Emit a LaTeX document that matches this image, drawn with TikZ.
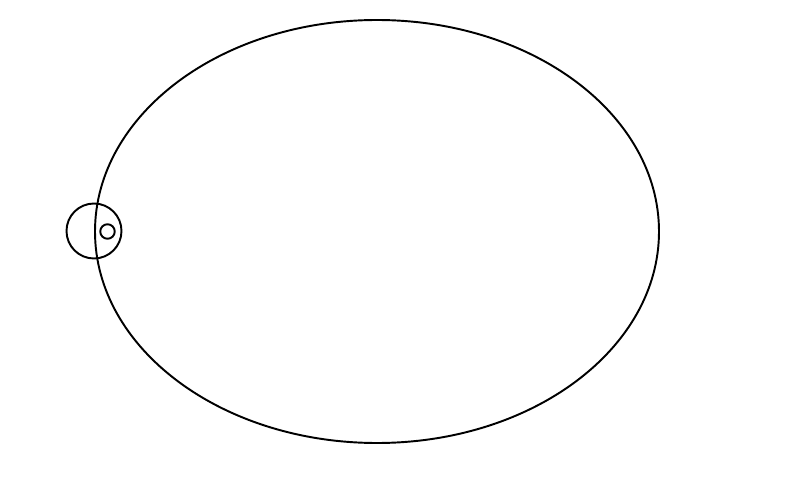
\documentclass[tikz,border=0pt]{standalone}
\usetikzlibrary{shapes.geometric}

\tikzset{orbite/.style = {ellipse, draw, line width=1.1pt, inner sep=0pt,
                          minimum width=11.28cm, minimum height=8.46cm},
         astre/.style = {circle, draw, line width=1.1pt, inner sep=0pt, minimum size=#1},
         astre/.default=1.1cm
        }

\begin{document}
\begin{tikzpicture}
\useasboundingbox (0,0) rectangle (15.9,9.52);
\node[orbite] at (7.54,4.89) (orb) {};
\node[astre] at (1.88,4.9) (pl) {};
\node[astre=0.29cm] at (2.15,4.89) (sat) {};
\end{tikzpicture}
\end{document}
